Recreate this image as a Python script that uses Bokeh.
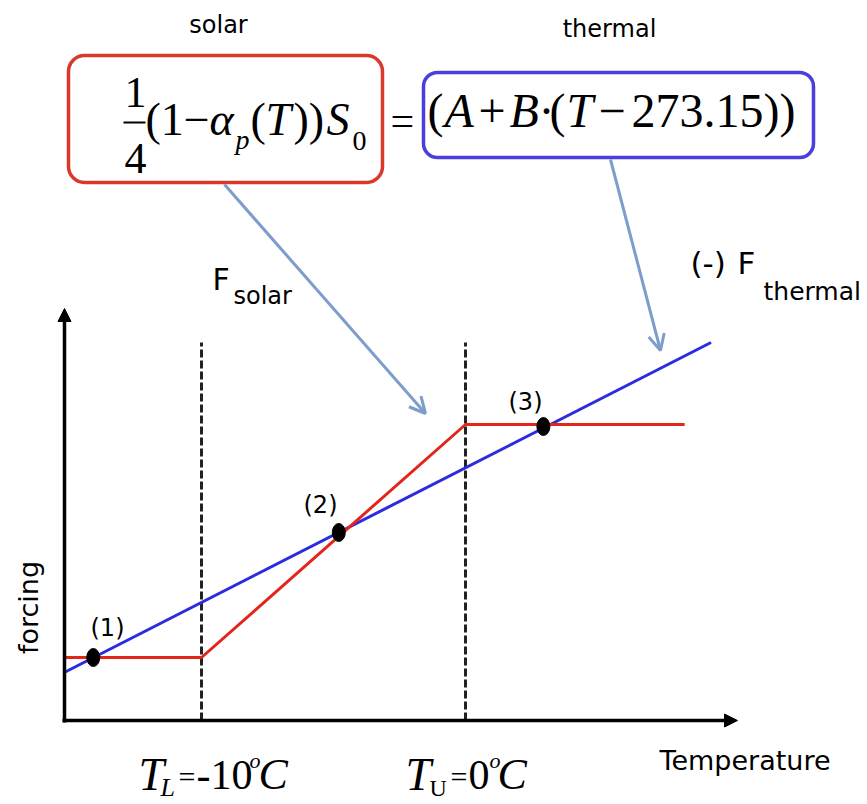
import math
from bokeh.plotting import figure
from bokeh.models import Range1d, BoxAnnotation, Arrow, NormalHead, OpenHead
from bokeh.core.properties import value
from bokeh.embed import file_html
from bokeh.resources import INLINE

# ---------------- data (Temperature in deg C, forcing in arbitrary units) ----------------
temp_solar = [-15.2, -10.0, 0.0, 8.3]
forcing_solar = [6.3, 6.3, 29.6, 29.6]
temp_thermal = [-15.2, 9.3]
forcing_thermal = [4.8, 37.8]
eq_temp = [-14.1, -4.8, 2.95]
eq_forcing = [6.3, 18.8, 29.4]
eq_labels = ["(1)", "(2)", "(3)"]
thresholds = [-10.0, 0.0]

# ---------------- layout ----------------
W, H = 867, 804
ORIGIN_PX, PX_PER_DEG = 465.0, 26.4      # canvas x of 0 C, px per degree
AXIS_PY, PY_PER_UNIT = 720.0, 10.0       # canvas y of forcing 0, px per unit
DASH_TOP = 37.8

RED = "#e3261c"
BLUE = "#2b2be0"
BOX_RED = "#d8392b"
BOX_BLUE = "#4a3fdc"
CALL = "#7d9dcc"

p = figure(width=W, height=H,
           x_range=Range1d((0 - ORIGIN_PX) / PX_PER_DEG, (W - ORIGIN_PX) / PX_PER_DEG),
           y_range=Range1d((AXIS_PY - H) / PY_PER_UNIT, AXIS_PY / PY_PER_UNIT),
           output_backend="svg", toolbar_location=None,
           x_axis_location=None, y_axis_location=None,
           min_border=0, outline_line_color=None, background_fill_color="white")
p.grid.visible = False
p.extra_x_ranges = {"px": Range1d(0, W)}
p.extra_y_ranges = {"py": Range1d(H, 0)}

SANS = "DejaVu Sans"
SERIF = "Liberation Serif"


def txt(x, y, s, size, font=SANS, style="normal", align="left", baseline="middle",
        color="black", angle=0.0):
    p.text(x=[x], y=[y], text=[s], text_font=value(font), text_font_size=f"{size}px",
           text_font_style=style, text_align=align, text_baseline=baseline,
           text_color=color, angle=angle, x_range_name="px", y_range_name="py")


# ---------------- threshold dashed lines ----------------
p.segment(x0=thresholds, y0=[0.0] * len(thresholds), x1=thresholds,
          y1=[DASH_TOP] * len(thresholds), line_color="#222222", line_width=3,
          line_dash="8 3")

# ---------------- axes with arrows ----------------
p.add_layout(Arrow(end=NormalHead(size=13, fill_color="black", line_color="black"),
                   x_start=64, y_start=722, x_end=64, y_end=308,
                   line_color="black", line_width=3.5,
                   x_range_name="px", y_range_name="py"))
p.add_layout(Arrow(end=NormalHead(size=13, fill_color="black", line_color="black"),
                   x_start=62, y_start=720, x_end=737, y_end=720,
                   line_color="black", line_width=3.5,
                   x_range_name="px", y_range_name="py"))

# ---------------- curves ----------------
p.line(temp_thermal, forcing_thermal, line_color=BLUE, line_width=3)
p.line(temp_solar, forcing_solar, line_color=RED, line_width=3)
p.ellipse(x=eq_temp, y=eq_forcing, width=13, height=18, width_units="screen",
          height_units="screen", fill_color="black", line_color="black")

# equilibrium labels
for lab, (lx, ly) in zip(eq_labels, [(107, 627), (320, 504), (525, 401)]):
    txt(lx, ly, lab, 24, align="center")

# ---------------- axis labels ----------------
txt(28, 607, "forcing", 27, align="center", angle=math.pi / 2)
txt(659, 760, "Temperature", 27)

# T_L = -10 C
txt(138, 774, "T", 46, font=SERIF, style="italic")
txt(160, 787, "L", 26, font=SERIF, style="italic")
txt(178, 776, "=", 30, font=SERIF)
txt(196, 774, "-10", 42, font=SERIF)
txt(249, 760, "o", 22, font=SERIF, style="italic")
txt(258, 774, "C", 44, font=SERIF, style="italic")
# T_U = 0 C
txt(405, 774, "T", 46, font=SERIF, style="italic")
txt(429, 787, "U", 24, font=SERIF)
txt(450, 776, "=", 30, font=SERIF)
txt(468, 774, "0", 42, font=SERIF)
txt(489, 760, "o", 22, font=SERIF, style="italic")
txt(497, 774, "C", 44, font=SERIF, style="italic")

# ---------------- F labels ----------------
txt(212, 279, "F", 30)
txt(233, 295, "solar", 24)
txt(690, 262, "(-)", 31)
txt(737, 262, "F", 31)
txt(763, 291, "thermal", 25)

# ---------------- top captions ----------------
txt(218, 24, "solar", 24, align="center")
txt(609, 28, "thermal", 24, align="center")

# ---------------- equation boxes ----------------
p.add_layout(BoxAnnotation(left=68, right=382, top=55, bottom=182, fill_color=None,
                           line_color=BOX_RED, line_alpha=1.0, line_width=3.5,
                           border_radius=16, x_range_name="px", y_range_name="py"))
p.add_layout(BoxAnnotation(left=423, right=813, top=72, bottom=157, fill_color=None,
                           line_color=BOX_BLUE, line_alpha=1.0, line_width=3.5,
                           border_radius=14, x_range_name="px", y_range_name="py"))

# red (solar) side
txt(135, 92, "1", 44, font=SERIF, align="center")
p.segment(x0=[123], y0=[122], x1=[145], y1=[122], line_color="black", line_width=2,
          x_range_name="px", y_range_name="py")
txt(135, 158, "4", 44, font=SERIF, align="center")
txt(145, 119, "(1\u2212", 46, font=SERIF)
txt(209, 119, "\u03b1", 46, font=SERIF, style="italic")
txt(235, 139, "p", 28, font=SERIF, style="italic")
txt(250, 119, "(", 46, font=SERIF)
txt(265, 119, "T", 46, font=SERIF, style="italic")
txt(293, 119, "))", 46, font=SERIF)
txt(326, 119, "S", 46, font=SERIF, style="italic")
txt(352, 140, "0", 28, font=SERIF)
txt(390, 120, "=", 42, font=SERIF)

# blue (thermal) side
txt(427, 110, "(", 48, font=SERIF)
txt(444, 110, "A", 48, font=SERIF, style="italic")
txt(478, 110, "+", 48, font=SERIF)
txt(509, 110, "B", 48, font=SERIF, style="italic")
txt(538, 110, "\u00b7", 48, font=SERIF)
txt(549, 110, "(", 48, font=SERIF)
txt(566, 110, "T", 48, font=SERIF, style="italic")
txt(598, 110, "\u2212", 48, font=SERIF)
txt(631, 110, "273.15))", 48, font=SERIF)

# ---------------- callout arrows ----------------
p.add_layout(Arrow(end=OpenHead(size=16, line_color=CALL, line_width=3),
                   x_start=224, y_start=184, x_end=425, y_end=413,
                   line_color=CALL, line_width=3, x_range_name="px", y_range_name="py"))
p.add_layout(Arrow(end=OpenHead(size=16, line_color=CALL, line_width=3),
                   x_start=610, y_start=159, x_end=660, y_end=350,
                   line_color=CALL, line_width=3, x_range_name="px", y_range_name="py"))

open("out.html", "w").write(file_html(p, INLINE))
